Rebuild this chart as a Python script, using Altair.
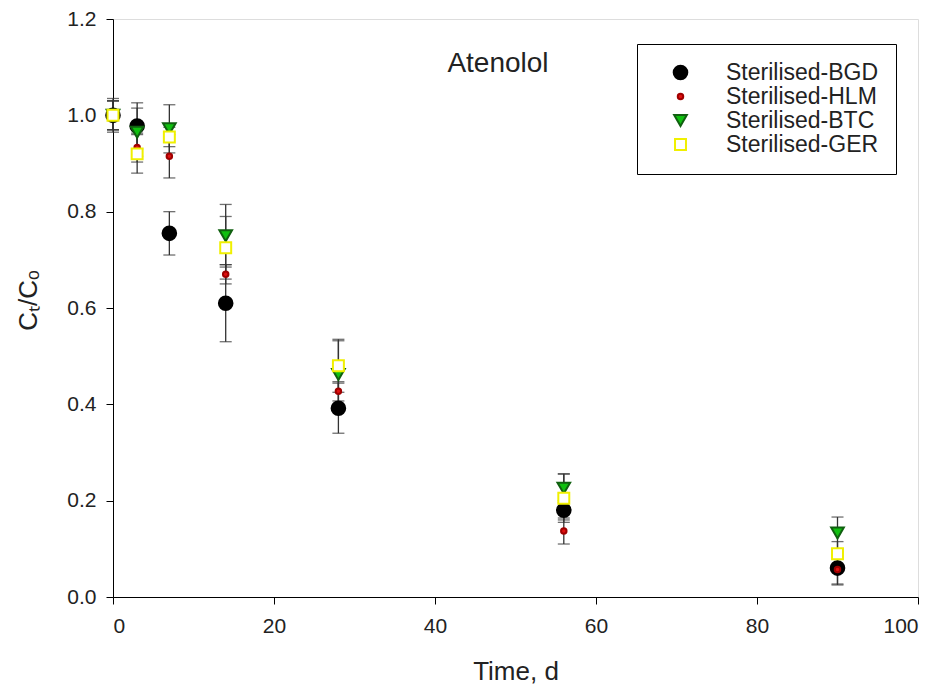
import altair as alt
import pandas as pd

times = [0, 3, 7, 14, 28, 56, 90]
series = ["Sterilised-BGD", "Sterilised-HLM", "Sterilised-BTC", "Sterilised-GER"]
bgd = [1.0, 0.978, 0.755, 0.61, 0.392, 0.18, 0.06]
bgd_err = [0.03, 0.048, 0.045, 0.08, 0.052, 0.02, 0.035]
hlm = [1.0, 0.933, 0.915, 0.67, 0.427, 0.137, 0.057]
hlm_err = [0.03, 0.03, 0.045, 0.02, 0.02, 0.027, 0.03]
btc = [1.0, 0.965, 0.972, 0.75, 0.462, 0.226, 0.133]
btc_err = [0.035, 0.05, 0.05, 0.065, 0.07, 0.03, 0.033]
ger = [1.0, 0.92, 0.955, 0.725, 0.48, 0.205, 0.09]
ger_err = [0.03, 0.04, 0.02, 0.065, 0.055, 0.05, 0.025]

rows = []
for i, (name, vals, errs) in enumerate(zip(series, [bgd, hlm, btc, ger], [bgd_err, hlm_err, btc_err, ger_err])):
    for t, v, e in zip(times, vals, errs):
        rows.append({"t": t, "v": v, "lo": v - e, "hi": v + e, "s": name, "ord": i})
df = pd.DataFrame(rows)

FONT = "Liberation Sans"

x = alt.X("t:Q", scale=alt.Scale(domain=[0, 100], nice=False),
          axis=alt.Axis(values=[0, 20, 40, 60, 80, 100], title="Time, d", grid=False,
                        labelFontSize=21, titleFontSize=26, titleFontWeight="normal",
                        labelFont=FONT, titleFont=FONT, tickSize=7, labelPadding=11,
                        titlePadding=22, domainColor="black", tickColor="black",
                        labelColor="#222", titleColor="#222"))
y_axis = alt.Axis(values=[0, 0.2, 0.4, 0.6, 0.8, 1.0, 1.2], format=".1f", title="Cₜ/Cₒ",
                  grid=False, labelFontSize=21, titleFontSize=26, titleFontWeight="normal",
                  labelFont=FONT, titleFont=FONT, tickSize=7, labelPadding=10,
                  titleX=-72, titleY=281, domainColor="black", tickColor="black",
                  labelColor="#222", titleColor="#222")

err = alt.Chart(df).mark_errorbar(
    ticks={"size": 12, "thickness": 1.3}, rule={"strokeWidth": 1.3}, color="#333"
).encode(
    x=x,
    y=alt.Y("lo:Q", scale=alt.Scale(domain=[0, 1.2], nice=False), axis=y_axis),
    y2="hi:Q",
)

shape_range = ["circle", "circle", "triangle-down", "square"]
fill_range = ["black", "#e01010", "#10c010", "white"]
stroke_range = ["black", "#a00000", "#106010", "#f0f000"]
size_range = [185, 30, 160, 120]

pts = alt.Chart(df).mark_point(filled=False, strokeWidth=2, opacity=1).encode(
    x="t:Q",
    y="v:Q",
    shape=alt.Shape("s:N", scale=alt.Scale(domain=series, range=shape_range),
                    legend=alt.Legend(title=None, orient="none", legendX=524, legendY=25,
                                      strokeColor="black", fillColor="white", padding=17,
                                      labelFontSize=23, labelFont=FONT, labelColor="#222",
                                      symbolOffset=15, labelOffset=34, rowPadding=0,
                                      symbolOpacity=1, symbolStrokeWidth=2)),
    fill=alt.Fill("s:N", scale=alt.Scale(domain=series, range=fill_range)),
    color=alt.Color("s:N", scale=alt.Scale(domain=series, range=stroke_range)),
    size=alt.Size("s:N", scale=alt.Scale(type="ordinal", domain=series, range=size_range)),
    order=alt.Order("ord:Q"),
)

title = alt.Chart(pd.DataFrame({"txt": ["Atenolol"]})).mark_text(
    font=FONT, fontSize=28, color="#222"
).encode(text="txt:N", x=alt.value(385), y=alt.value(45))

chart = alt.layer(err, pts, title).properties(
    width=805, height=578,
    autosize=alt.AutoSizeParams(type="none"),
    padding={"left": 105, "top": 11, "right": 10, "bottom": 90},
).configure_view(stroke="black", strokeWidth=1.2).configure(background="white")

chart.save("out.html", embed_options={"renderer": "svg", "actions": False})
